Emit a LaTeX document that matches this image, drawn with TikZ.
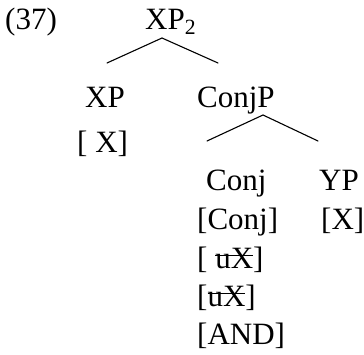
\documentclass[tikz,border=0pt]{standalone}
\usepackage{fontspec}
\setmainfont{Liberation Serif}
\newcommand{\featstrike}[1]{\setbox0\hbox{#1}\rlap{\rule[.38em]{\wd0}{1.1pt}}\box0}
\tikzset{
    lbl/.style={anchor=base west, inner sep=0pt, font=\fontsize{31}{38}\selectfont},
    branch/.style={line width=1.1pt, line cap=round}
}
\begin{document}
\begin{tikzpicture}[x=1pt, y=-1pt]
    \useasboundingbox (0,0) rectangle (364,354);
    % example number
    \node[lbl] (num) at (5,29) {(37)};
    % top
    \node[lbl] (xp2) at (145,29) {XP\textsubscript{2}};
    % row 2
    \node[lbl] (xp) at (85,107) {XP};
    \node[lbl] (conjp) at (197,107) {ConjP};
    \node[lbl] (xpfeat) at (77,152) {[ X]};
    % row 3
    \node[lbl] (conj) at (206,190) {Conj};
    \node[lbl] (yp) at (319,190) {YP};
    \node[lbl] (ypfeat) at (321,229) {[X]};
    % features of Conj
    \node[lbl] (feat1) at (197,229) {[Conj]};
    \node[lbl] (feat2) at (197,268) {[ \featstrike{uX}]};
    \node[lbl] (feat3) at (197,306) {[\featstrike{uX}]};
    \node[lbl] (feat4) at (197,344) {[AND]};
    % branches
    \draw[branch] ([shift={(17,9)}]xp2.base west) -- ([shift={(22,-44)}]xp.base west);
    \draw[branch] ([shift={(17,9)}]xp2.base west) -- ([shift={(21,-44)}]conjp.base west);
    \draw[branch] ([shift={(66,8)}]conjp.base west) -- ([shift={(1,-49)}]conj.base west);
    \draw[branch] ([shift={(66,8)}]conjp.base west) -- ([shift={(-1,-49)}]yp.base west);
\end{tikzpicture}
\end{document}
